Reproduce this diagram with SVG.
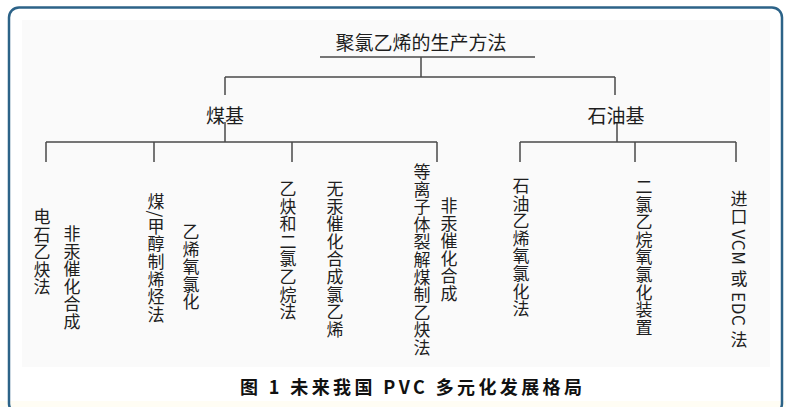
<svg xmlns="http://www.w3.org/2000/svg" width="786" height="407" viewBox="0 0 786 407">
<style>
text{font-family:"Noto Sans CJK SC","Liberation Sans",sans-serif;fill:#1e1e1e}
.h{font-size:19px;text-anchor:middle}
.v{font-size:17px;writing-mode:vertical-rl;letter-spacing:0.6px}
.ln{stroke:#4a4a4a;stroke-width:1.5;fill:none}
.cap{font-size:18px;font-weight:bold;fill:#111}
</style>
<rect x="0" y="0" width="786" height="407" fill="#ffffff"/>
<rect x="0" y="401" width="786" height="6" fill="#fffdf4"/>
<rect x="9" y="7.5" width="773" height="406" rx="10" fill="none" stroke="#2c6388" stroke-width="2.5"/>
<rect x="22" y="20" width="748" height="347" fill="#fafafa"/>
<g id="connectors" class="ln">
<path d="M320 57H535M421 57V77M225 77H615M225 77V95M615 77V95"/>
<path d="M225 122V142M46 142H437M46 142V162M154 142V162M292 142V162M437 142V162"/>
<path d="M617 123V142M520 142H736M520 142V162M635 142V162M736 142V162"/>
</g>
<g id="root"><text class="h" x="421" y="50">聚氯乙烯的生产方法</text></g>
<g id="coal"><text class="h" x="225" y="123">煤基</text></g>
<g id="petro"><text class="h" x="616" y="123">石油基</text></g>
<g id="c1"><text class="v" x="42" y="208">电石乙炔法</text><text class="v" x="72" y="225">非汞催化合成</text></g>
<g id="c2"><text class="v" x="156" y="193">煤/甲醇制烯烃法</text><text class="v" x="191" y="223">乙烯氧氯化</text></g>
<g id="c3"><text class="v" x="288" y="180">乙炔和二氯乙烷法</text><text class="v" x="335" y="180">无汞催化合成氯乙烯</text></g>
<g id="c4"><text class="v" x="422" y="163">等离子体裂解煤制乙炔法</text><text class="v" x="449" y="197">非汞催化合成</text></g>
<g id="p1"><text class="v" x="521" y="177">石油乙烯氧氯化法</text></g>
<g id="p2"><text class="v" x="644" y="178">二氯乙烷氧氯化装置</text></g>
<g id="p3"><text class="v" x="739" y="190">进口 VCM 或 EDC 法</text></g>
<g id="caption"><text class="cap" x="240" y="394" textLength="342" lengthAdjust="spacing">图 1 未来我国 PVC 多元化发展格局</text></g>
</svg>
